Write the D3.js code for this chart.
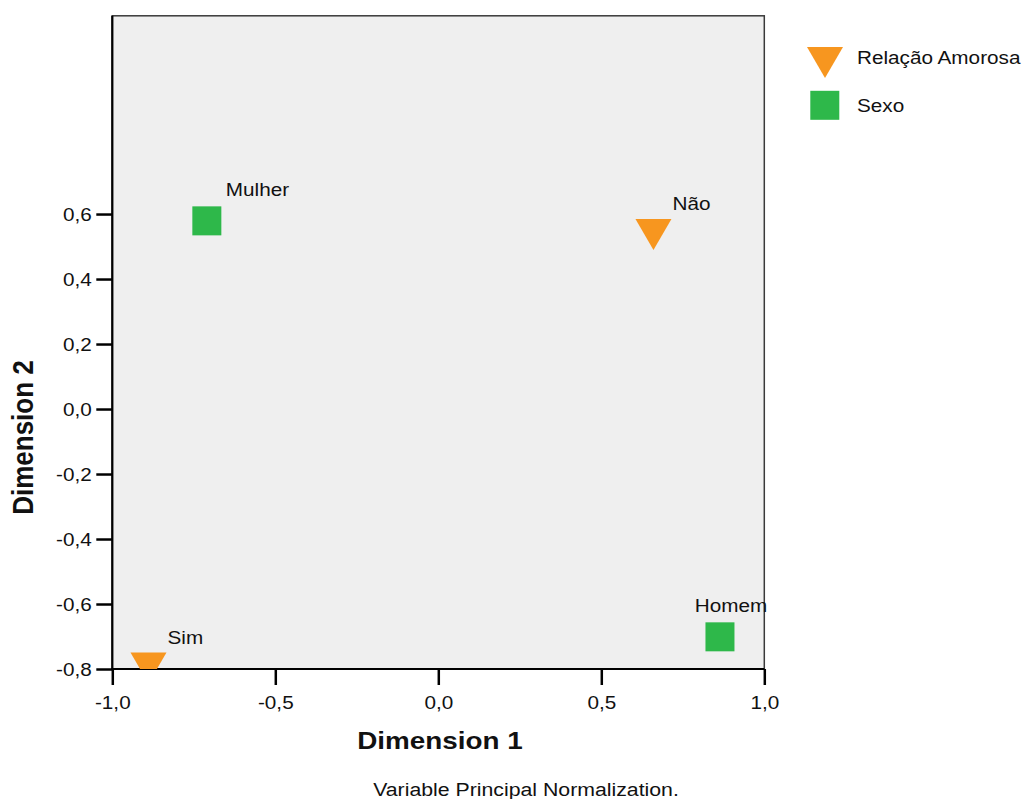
<!DOCTYPE html>
<html>
<head>
<meta charset="utf-8">
<script src="https://cdn.jsdelivr.net/npm/d3@7"></script>
<style>
  html, body { margin: 0; padding: 0; background: #ffffff; }
  svg { display: block; }
  text { font-family: Arial, "Liberation Sans", sans-serif; fill: #111; }
</style>
</head>
<body>
<svg id="chart" width="1028" height="799"></svg>
<script>
// Category points (object scores) for the two variables
const relacaoLabels = ["Sim", "Não"];
const relacaoDim1 = [-0.889, 0.660];
const relacaoDim2 = [-0.797, 0.537];

const sexoLabels = ["Mulher", "Homem"];
const sexoDim1 = [-0.710, 0.864];
const sexoDim2 = [0.579, -0.701];

const legendNames = ["Relação Amorosa", "Sexo"];
const xTicks = [-1.0, -0.5, 0.0, 0.5, 1.0];
const yTicks = [-0.8, -0.6, -0.4, -0.2, 0.0, 0.2, 0.4, 0.6];

const ORANGE = "#f7961f";
const GREEN = "#2eb84a";
const SX = 1.12; // horizontal text stretch

const svg = d3.select("#chart");
const plot = { left: 112.3, right: 764.3, top: 15.8, bottom: 669 };

const x = d3.scaleLinear().domain([-1, 1]).range([plot.left, plot.right]);
const y = d3.scaleLinear().domain([-0.8, 1.21]).range([plot.bottom, plot.top]);

const fmt = v => d3.format(".1f")(v).replace(".", ",").replace("\u2212", "-");

// plot background and frame
svg.append("rect")
  .attr("x", plot.left).attr("y", plot.top)
  .attr("width", plot.right - plot.left).attr("height", plot.bottom - plot.top)
  .attr("fill", "#efefef").attr("stroke", "#3a3a3a").attr("stroke-width", 1.5);

svg.append("clipPath").attr("id", "plotClip")
  .append("rect")
  .attr("x", plot.left).attr("y", plot.top)
  .attr("width", plot.right - plot.left).attr("height", plot.bottom - plot.top);

// axes
const xAxis = svg.append("g")
  .attr("transform", `translate(0,${plot.bottom})`)
  .call(d3.axisBottom(x).tickValues(xTicks).tickFormat(fmt).tickSize(16).tickSizeOuter(0));
const yAxis = svg.append("g")
  .attr("transform", `translate(${plot.left},0)`)
  .call(d3.axisLeft(y).tickValues(yTicks).tickFormat(fmt).tickSize(16).tickSizeOuter(0));

[xAxis, yAxis].forEach(g => {
  g.select(".domain").remove();
  g.selectAll(".tick line").attr("stroke", "#000").attr("stroke-width", 2.5);
  g.selectAll(".tick text").attr("font-size", 18.5).attr("fill", "#111")
    .style("font-family", "Arial, 'Liberation Sans', sans-serif");
});
xAxis.selectAll(".tick text").attr("y", 40).attr("dy", 0).attr("transform", `scale(${SX},1)`);
yAxis.selectAll(".tick text").attr("x", -20.6 / SX).attr("dy", "0.36em").attr("transform", `scale(${SX},1)`);

// axis lines (left and bottom in black)
svg.append("line").attr("x1", plot.left).attr("x2", plot.left)
  .attr("y1", plot.top).attr("y2", plot.bottom + 1)
  .attr("stroke", "#000").attr("stroke-width", 2.2);
svg.append("line").attr("x1", plot.left - 1).attr("x2", plot.right)
  .attr("y1", plot.bottom).attr("y2", plot.bottom)
  .attr("stroke", "#000").attr("stroke-width", 2.2);

// marker shapes
const TRI_W = 36, TRI_H = 31, SQ = 29;
const triPath = `M${-TRI_W / 2},${-TRI_H / 2}L${TRI_W / 2},${-TRI_H / 2}L0,${TRI_H / 2}Z`;

const relacaoPts = relacaoLabels.map((l, i) => ({ label: l, d1: relacaoDim1[i], d2: relacaoDim2[i] }));
const sexoPts = sexoLabels.map((l, i) => ({ label: l, d1: sexoDim1[i], d2: sexoDim2[i] }));

const marks = svg.append("g").attr("clip-path", "url(#plotClip)");
marks.selectAll("path.tri").data(relacaoPts).enter().append("path")
  .attr("class", "tri")
  .attr("d", triPath)
  .attr("transform", d => `translate(${x(d.d1)},${y(d.d2)})`)
  .attr("fill", ORANGE);
marks.selectAll("rect.sq").data(sexoPts).enter().append("rect")
  .attr("class", "sq")
  .attr("x", d => x(d.d1) - SQ / 2).attr("y", d => y(d.d2) - SQ / 2)
  .attr("width", SQ).attr("height", SQ)
  .attr("fill", GREEN);

// point labels, kept within the right edge of the frame
const labels = svg.append("g");
relacaoPts.concat(sexoPts).forEach(d => {
  const cx = x(d.d1), cy = y(d.d2);
  const t = labels.append("text")
    .attr("font-size", 18.5)
    .text(d.label);
  const w = t.node().getComputedTextLength() * SX;
  const lx = Math.min(cx + 19, plot.right + 3 - w);
  t.attr("transform", `translate(${lx},${cy - 24.5}) scale(${SX},1)`);
});

// legend
const legend = svg.append("g");
legend.append("path").attr("d", triPath)
  .attr("transform", `translate(825,62.5)`).attr("fill", ORANGE);
legend.append("rect").attr("x", 810.3).attr("y", 90.8).attr("width", SQ).attr("height", SQ).attr("fill", GREEN);
legend.selectAll("text.leg").data(legendNames).enter().append("text")
  .attr("class", "leg")
  .attr("font-size", 18.5)
  .attr("transform", (d, i) => `translate(857,${[63.5, 111.5][i]}) scale(${SX},1)`)
  .text(d => d);

// axis titles
svg.append("text")
  .attr("font-size", 24).attr("font-weight", "bold").attr("text-anchor", "middle")
  .attr("transform", `translate(440,749) scale(1.16,1)`)
  .text("Dimension 1");
svg.append("text")
  .attr("font-size", 26).attr("font-weight", "bold").attr("text-anchor", "middle")
  .attr("transform", `translate(33,437.5) scale(${SX},1) rotate(-90)`)
  .text("Dimension 2");

// footnote
svg.append("text")
  .attr("font-size", 19).attr("text-anchor", "middle")
  .attr("transform", `translate(526,796) scale(${SX},1)`)
  .text("Variable Principal Normalization.");
</script>
</body>
</html>
